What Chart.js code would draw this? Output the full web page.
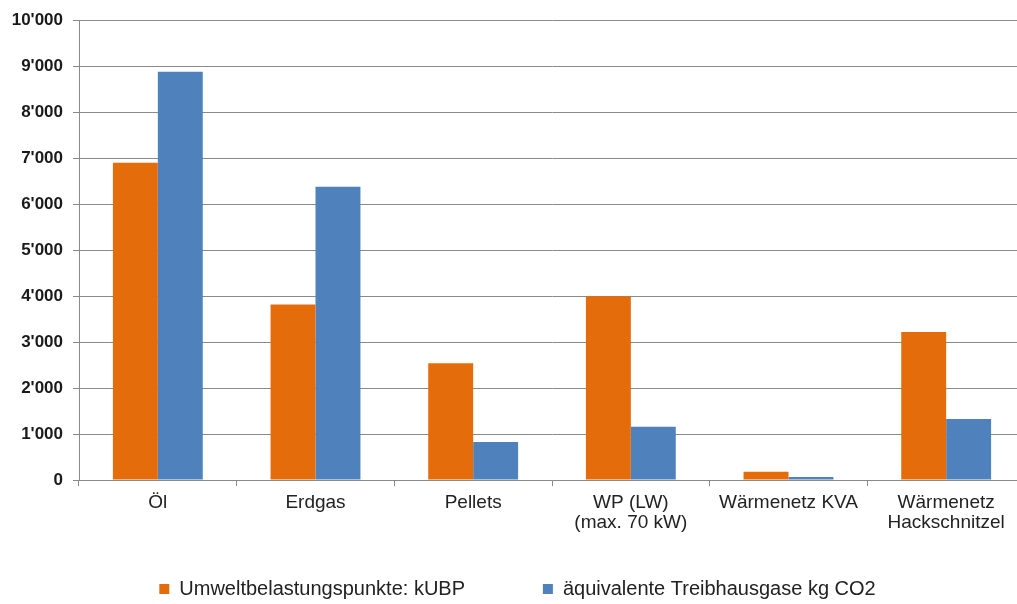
<!DOCTYPE html>
<html>
<head>
<meta charset="utf-8">
<script src="https://cdn.jsdelivr.net/npm/chart.js@4"></script>
<style>
  body { margin: 0; background: #fff; overflow: hidden; }
  #wrap { width: 1017px; height: 604px; overflow: hidden; }
</style>
</head>
<body>
<!-- the original picture is cut off on the right, so the canvas runs past the edge -->
<div id="wrap"><canvas id="chart" width="1026" height="604"></canvas></div>
<script>
const categories = ['Öl', 'Erdgas', 'Pellets', ['WP (LW)', '(max. 70 kW)'], 'Wärmenetz KVA', ['Wärmenetz', 'Hackschnitzel']];
const ubpValues = [6900, 3820, 2540, 4000, 180, 3220];
const co2Values = [8880, 6380, 830, 1160, 70, 1330];
const seriesNames = ['Umweltbelastungspunkte: kUBP', 'äquivalente Treibhausgase kg CO2'];

// Swiss style thousands separator: 10'000
function formatTick(v) {
  return String(v).replace(/\B(?=(\d{3})+(?!\d))/g, "'");
}

const ctx = document.getElementById('chart').getContext('2d');
new Chart(ctx, {
  type: 'bar',
  data: {
    labels: categories,
    datasets: [
      { label: seriesNames[0], data: ubpValues, backgroundColor: '#E46C0A' },
      { label: seriesNames[1], data: co2Values, backgroundColor: '#4F81BD' }
    ]
  },
  options: {
    responsive: false,
    animation: false,
    layout: { padding: { top: 18, right: 1, left: 10, bottom: -5 } },
    datasets: {
      bar: { categoryPercentage: 0.57, barPercentage: 1 }
    },
    plugins: {
      tooltip: { enabled: false },
      legend: {
        position: 'bottom',
        labels: {
          boxWidth: 10,
          boxHeight: 10,
          padding: 39,
          color: '#222',
          font: { family: 'Liberation Sans, Arial', size: 20 },
          // a bit more room between the two items than the padding gives
          generateLabels: (chart) => {
            const items = Chart.defaults.plugins.legend.labels.generateLabels(chart);
            items.forEach((it, i) => {
              if (i < items.length - 1) it.text = it.text + '       ';
            });
            return items;
          }
        }
      }
    },
    scales: {
      x: {
        grid: { drawOnChartArea: false, drawTicks: true, tickLength: 6, color: '#8a8a8a' },
        border: { color: '#8a8a8a' },
        ticks: {
          color: '#222',
          padding: 7,
          maxRotation: 0,
          font: { family: 'Liberation Sans, Arial', size: 19, lineHeight: 1.05 }
        }
      },
      y: {
        min: 0,
        max: 10000,
        afterFit: (scale) => { scale.width = 69; },
        grid: { color: '#8a8a8a', tickLength: 6 },
        border: { color: '#8a8a8a' },
        ticks: {
          stepSize: 1000,
          color: '#1a1a1a',
          padding: 10,
          font: { family: 'Liberation Sans, Arial', size: 17, weight: 'bold' },
          callback: (v) => formatTick(v)
        }
      }
    }
  }
});
</script>
</body>
</html>
